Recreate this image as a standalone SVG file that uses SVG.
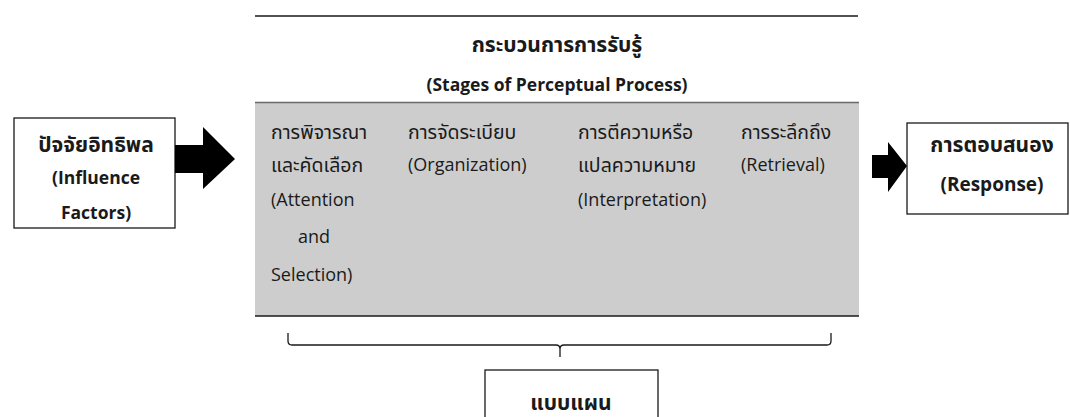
<svg xmlns="http://www.w3.org/2000/svg" width="1070" height="417" viewBox="0 0 1070 417">
<style>
text{font-family:"Open Sans","Noto Sans","Noto Sans Thai","Liberation Sans",sans-serif;font-size:18px;fill:#1a1a1a}
.th{font-size:19.5px}
.b{font-weight:bold;font-size:17.5px}
.bt{font-weight:bold;font-size:21px}
.c{text-anchor:middle}
.box{fill:#fff;stroke:#1a1a1a;stroke-width:1.3}
.arr{fill:#000}
</style>
<rect width="1070" height="417" fill="#fff"/>
<g id="process">
<line x1="255" y1="16" x2="858" y2="16" stroke="#1a1a1a" stroke-width="1.5"/>
<text class="bt c" x="557" y="52">กระบวนการการรับรู้</text>
<text class="b c" x="557" y="91">(Stages of Perceptual Process)</text>
<rect x="255" y="102" width="604" height="214" fill="#cdcdcd"/>
<line x1="255" y1="102.5" x2="859" y2="102.5" stroke="#6a6a6a" stroke-width="1.5"/>
<line x1="255" y1="316" x2="859" y2="316" stroke="#1a1a1a" stroke-width="1.5"/>
<g id="stage1">
<text class="th" x="271" y="139">การพิจารณา</text>
<text class="th" x="271" y="172">และคัดเลือก</text>
<text x="271" y="206">(Attention</text>
<text x="298" y="243">and</text>
<text x="271" y="281">Selection)</text>
</g>
<g id="stage2">
<text class="th" x="408" y="139">การจัดระเบียบ</text>
<text x="408" y="171">(Organization)</text>
</g>
<g id="stage3">
<text class="th" x="578" y="139">การตีความหรือ</text>
<text class="th" x="578" y="172">แปลความหมาย</text>
<text x="578" y="206">(Interpretation)</text>
</g>
<g id="stage4">
<text class="th" x="741" y="139">การระลึกถึง</text>
<text x="741" y="171">(Retrieval)</text>
</g>
</g>
<g id="influence">
<rect class="box" x="14" y="118" width="161" height="110"/>
<text class="bt c" x="96" y="152">ปัจจัยอิทธิพล</text>
<text class="b c" x="96" y="184">(Influence</text>
<text class="b c" x="96" y="219">Factors)</text>
</g>
<g id="response">
<rect class="box" x="907" y="123" width="161" height="91"/>
<text class="bt c" x="992" y="152">การตอบสนอง</text>
<text class="b c" x="992" y="191" style="font-size:19px">(Response)</text>
</g>
<g id="pattern">
<rect class="box" x="485" y="370" width="173" height="60"/>
<text class="bt c" x="571" y="410">แบบแผน</text>
</g>
<g id="connectors">
<polygon class="arr" points="175,145 203,145 203,127 235,159 203,189 203,173 175,173"/>
<polygon class="arr" points="872,155 888,155 888,142 907,166 888,192 888,178 872,178"/>
<path d="M288,333 V341 Q288,345 292,345 H556 Q560,345 560,349 V357 M560,349 Q560,345 564,345 H827 Q831,345 831,341 V333" fill="none" stroke="#1a1a1a" stroke-width="1.3"/>
</g>
</svg>
